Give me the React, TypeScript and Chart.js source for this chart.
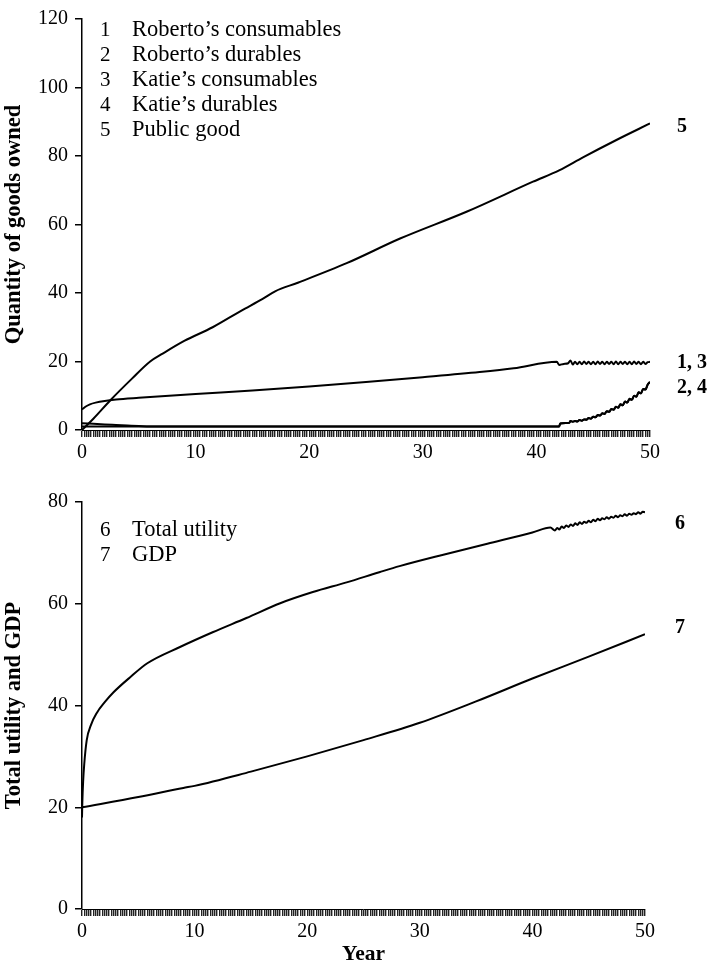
import React, { useEffect, useRef } from 'react';
import { Chart, registerables } from 'chart.js';
Chart.register(...registerables);

const FONT = "'Liberation Serif', 'Times New Roman', serif";

// ---------- Top panel data ----------
const publicGoodYears = [0, 1, 2.5, 4.4, 6, 7.1, 9, 11.5, 14, 15.9, 17, 19, 23.3, 28, 33.9, 39.7, 42, 44.1, 47, 50];
const publicGoodValues = [0, 3.3, 8.7, 15, 20, 22.3, 26, 30, 34.8, 38.3, 40.5, 43, 48.7, 55.9, 63.8, 72.5, 75.8, 79.6, 84.6, 89.5];

const consumablesYears = [0, 0.3, 0.7, 1.2, 2, 3, 5, 10, 15, 20, 25, 30, 35, 38, 41.8, 42.0, 42.4, 42.8, 43.0,
  43.2, 43.4, 43.6, 43.8, 44.0, 44.2, 44.4, 44.6, 44.8, 45.0, 45.2, 45.4, 45.6, 45.8, 46.0, 46.2, 46.4, 46.6, 46.8,
  47.0, 47.2, 47.4, 47.6, 47.8, 48.0, 48.2, 48.4, 48.6, 48.8, 49.0, 49.2, 49.4, 49.6, 49.8, 50.0];
const consumablesValues = [6, 6.8, 7.5, 8.0, 8.5, 8.9, 9.4, 10.5, 11.5, 12.7, 14.0, 15.4, 16.9, 18.0, 19.9, 19.0, 19.3, 19.5, 20.3,
  19.1, 19.9, 19.2, 19.9, 19.2, 20.0, 19.3, 19.9, 19.2, 19.9, 19.2, 20.0, 19.3, 19.9, 19.2, 19.9, 19.3, 19.9, 19.2,
  20.0, 19.2, 19.9, 19.3, 19.9, 19.2, 19.9, 19.2, 20.0, 19.3, 19.9, 19.2, 19.9, 19.3, 19.8, 19.9];

const robertoDurablesEarlyYears = [0, 1, 2, 3, 4, 5, 6.5];
const robertoDurablesEarlyValues = [2, 1.8, 1.6, 1.45, 1.3, 1.15, 1.0];
const katieDurablesEarlyYears = [0];
const katieDurablesEarlyValues = [1.0];
const durablesLateYears = [42.0, 42.1, 42.9, 43.0, 43.2, 43.4, 43.6, 43.8, 44.0, 44.2, 44.4, 44.6, 44.8, 45.0, 45.2,
  45.4, 45.6, 45.8, 46.0, 46.2, 46.4, 46.6, 46.8, 47.0, 47.2, 47.4, 47.6, 47.8, 48.0, 48.2, 48.4, 48.6, 48.8, 49.0,
  49.2, 49.4, 49.6, 49.8, 50.0];
const durablesLateValues = [1.0, 1.9, 2.1, 2.6, 2.4, 2.6, 2.5, 2.9, 2.7, 3.1, 3.0, 3.5, 3.3, 3.9, 3.7,
  4.4, 4.2, 4.9, 4.7, 5.5, 5.3, 6.1, 5.9, 6.8, 6.5, 7.5, 7.2, 8.3, 8.0, 9.1, 8.8, 10.0, 9.7, 11.0,
  10.7, 12.0, 11.8, 13.3, 14.0];

// ---------- Bottom panel data ----------
const utilityYears = [0, 0.03, 0.1, 0.2, 0.42, 0.8, 1.3, 2, 2.8, 4.3, 5.8, 8.7, 11.6, 14.6, 17.6, 20.5, 23.5, 26.4, 28.2,
  32, 36, 40, 41.6, 42.0, 42.2, 42.4, 42.6, 42.8, 43.0, 43.2, 43.4, 43.6, 43.8, 44.0, 44.2, 44.4, 44.6, 44.8, 45.0,
  45.2, 45.4, 45.6, 45.8, 46.0, 46.2, 46.4, 46.6, 46.8, 47.0, 47.2, 47.4, 47.6, 47.8, 48.0, 48.2, 48.4, 48.6, 48.8,
  49.0, 49.2, 49.4, 49.6, 49.8, 50.0];
const utilityValues = [18, 21, 25, 28.5, 33.2, 36.2, 38.5, 40.6, 42.6, 45.6, 48.3, 51.5, 54.4, 57.2, 60.1, 62.3, 64.2, 66.2, 67.4,
  69.6, 71.8, 74.0, 75.0, 74.4, 74.9, 74.6, 75.2, 74.9, 75.4, 75.1, 75.6, 75.3, 75.8, 75.5, 76.0, 75.7, 76.1, 75.9, 76.3,
  76.0, 76.5, 76.2, 76.7, 76.4, 76.8, 76.6, 77.0, 76.7, 77.1, 76.9, 77.3, 77.0, 77.4, 77.2, 77.6, 77.3, 77.7, 77.5,
  77.8, 77.6, 78.0, 77.7, 78.1, 78.0];

const gdpYears = [0, 5, 9, 10, 15, 20, 25, 30, 35, 40, 45, 50];
const gdpValues = [20, 22, 23.8, 24.2, 27, 30, 33.2, 36.6, 40.8, 45.3, 49.6, 54];

// ---------- Labels ----------
const topLegend = [
  ['1', 'Roberto\u2019s consumables'],
  ['2', 'Roberto\u2019s durables'],
  ['3', 'Katie\u2019s consumables'],
  ['4', 'Katie\u2019s durables'],
  ['5', 'Public good'],
];
const bottomLegend = [
  ['6', 'Total utility'],
  ['7', 'GDP'],
];
const topEndLabels = [
  { text: '5', value: 88.5 },
  { text: '1, 3', value: 19.6 },
  { text: '2, 4', value: 12.2 },
];
const bottomEndLabels = [
  { text: '6', value: 75.8 },
  { text: '7', value: 55.2 },
];

const toPoints = (xs: number[], ys: number[]) => xs.map((x, i) => ({ x, y: ys[i] }));

function makeLabelPlugin(legend: string[][], ends: { text: string; value: number }[], legendTop: number, endOffset: number) {
  return {
    id: 'figLabels',
    afterDatasetsDraw(chart: any) {
      const { ctx, chartArea, scales } = chart;
      ctx.save();
      ctx.fillStyle = '#000';
      ctx.textBaseline = 'middle';
      ctx.textAlign = 'left';
      legend.forEach((row, i) => {
        const y = chartArea.top + legendTop + i * 25;
        ctx.font = `21px ${FONT}`;
        ctx.fillText(row[0], chartArea.left + 18, y);
        ctx.font = `22.5px ${FONT}`;
        ctx.fillText(row[1], chartArea.left + 50, y);
      });
      ctx.font = `bold 20px ${FONT}`;
      ends.forEach((e) => {
        ctx.fillText(e.text, chartArea.right + endOffset, scales.y.getPixelForValue(e.value));
      });
      ctx.restore();
    },
  };
}

function lineDs(label: string, xs: number[], ys: number[]) {
  return {
    label,
    data: toPoints(xs, ys),
    borderColor: '#000',
    backgroundColor: '#000',
    borderWidth: 2,
    pointRadius: 0,
    fill: false,
    cubicInterpolationMode: 'monotone',
  };
}

function xScale(height: number, withTitle: boolean) {
  return {
    type: 'linear',
    min: 0,
    max: 50,
    ticks: {
      stepSize: 0.2,
      autoSkip: false,
      maxRotation: 0,
      minRotation: 0,
      padding: 4,
      color: '#000',
      font: { family: FONT, size: 20 },
      callback: (v: number) => (Math.round(v * 10) % 100 === 0 ? String(Math.round(v)) : ''),
    },
    grid: { drawOnChartArea: false, drawTicks: true, tickLength: 7, color: '#222', lineWidth: 1.4 },
    border: { display: true, color: '#000', width: 1 },
    title: withTitle
      ? { display: true, text: 'Year', color: '#000', font: { family: FONT, size: 21.5, weight: 'bold' }, padding: { top: 0, bottom: 4 } }
      : { display: false },
    afterFit: (s: any) => { s.height = height; },
  };
}

function yScale(max: number, title: string) {
  return {
    type: 'linear',
    min: 0,
    max,
    ticks: { stepSize: 20, color: '#000', padding: 7, font: { family: FONT, size: 20 } },
    grid: { drawOnChartArea: false, drawTicks: true, tickLength: 7, color: '#000', lineWidth: 1.5 },
    border: { display: true, color: '#000', width: 1.5 },
    title: { display: true, text: title, color: '#000', font: { family: FONT, size: 22.5, weight: 'bold' }, padding: { top: 1, bottom: 0 } },
    afterFit: (s: any) => { s.width = 82; },
  };
}

export default function App() {
  const topRef = useRef<HTMLCanvasElement>(null);
  const bottomRef = useRef<HTMLCanvasElement>(null);

  useEffect(() => {
    const top = new Chart(topRef.current as HTMLCanvasElement, {
      type: 'line',
      data: {
        datasets: [
          lineDs('Roberto\u2019s consumables', consumablesYears, consumablesValues),
          lineDs('Roberto\u2019s durables', robertoDurablesEarlyYears.concat(durablesLateYears), robertoDurablesEarlyValues.concat(durablesLateValues)),
          lineDs('Katie\u2019s durables', katieDurablesEarlyYears.concat(durablesLateYears), katieDurablesEarlyValues.concat(durablesLateValues)),
          lineDs('Public good', publicGoodYears, publicGoodValues),
        ],
      },
      options: {
        animation: false,
        responsive: false,
        layout: { padding: { top: 17, right: 62, left: 0, bottom: 0 } },
        plugins: { legend: { display: false }, tooltip: { enabled: false } },
        scales: {
          x: xScale(40, false) as any,
          y: yScale(120, 'Quantity of goods owned') as any,
        },
      },
      plugins: [makeLabelPlugin(topLegend, topEndLabels, 11, 27)],
    } as any);

    const bottom = new Chart(bottomRef.current as HTMLCanvasElement, {
      type: 'line',
      data: {
        datasets: [
          lineDs('Total utility', utilityYears, utilityValues),
          lineDs('GDP', gdpYears, gdpValues),
        ],
      },
      options: {
        animation: false,
        responsive: false,
        layout: { padding: { top: 32, right: 67, left: 0, bottom: 0 } },
        plugins: { legend: { display: false }, tooltip: { enabled: false } },
        scales: {
          x: xScale(62, true) as any,
          y: yScale(80, 'Total utility and GDP') as any,
        },
      },
      plugins: [makeLabelPlugin(bottomLegend, bottomEndLabels, 28, 30)],
    } as any);

    return () => {
      top.destroy();
      bottom.destroy();
    };
  }, []);

  return (
    <div style={{ position: 'absolute', left: 0, top: 0, width: 712, height: 971, background: '#fff' }}>
      <canvas ref={topRef} width={712} height={470} style={{ position: 'absolute', left: 0, top: 0 }} />
      <canvas ref={bottomRef} width={712} height={501} style={{ position: 'absolute', left: 0, top: 470 }} />
    </div>
  );
}
